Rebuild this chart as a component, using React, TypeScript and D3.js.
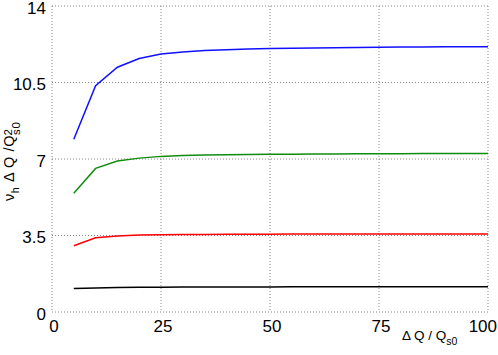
import React from 'react';
import * as d3 from 'd3';

const xs = [5, 10, 15, 20, 25, 30, 35, 40, 45, 50, 55, 60, 65, 70, 75, 80, 85, 90, 95, 100];
const blueVals = [7.9, 10.35, 11.2, 11.6, 11.8, 11.9, 11.96, 12.0, 12.03, 12.05, 12.07, 12.08, 12.09, 12.1, 12.11, 12.12, 12.12, 12.13, 12.13, 12.14];
const greenVals = [5.43, 6.57, 6.91, 7.04, 7.12, 7.16, 7.18, 7.2, 7.21, 7.22, 7.22, 7.23, 7.23, 7.24, 7.24, 7.24, 7.25, 7.25, 7.25, 7.25];
const redVals = [3.03, 3.4, 3.48, 3.52, 3.54, 3.55, 3.55, 3.56, 3.56, 3.56, 3.57, 3.57, 3.57, 3.57, 3.57, 3.57, 3.57, 3.57, 3.57, 3.57];
const blackVals = [1.07, 1.1, 1.12, 1.13, 1.13, 1.14, 1.14, 1.14, 1.14, 1.14, 1.15, 1.15, 1.15, 1.15, 1.15, 1.15, 1.15, 1.15, 1.15, 1.15];
const xTicks = [0, 25, 50, 75, 100];
const yTicks = [0, 3.5, 7, 10.5, 14];

const series = [
  { name: 'black', values: blackVals, color: '#000000' },
  { name: 'red', values: redVals, color: '#ff0000' },
  { name: 'green', values: greenVals, color: '#108c10' },
  { name: 'blue', values: blueVals, color: '#1010ff' },
];

const W = 498;
const H = 355;
const left = 52, right = 488, top = 6, bottom = 312;

const App = () => {
  const x = d3.scaleLinear().domain([0, 100]).range([left, right]);
  const y = d3.scaleLinear().domain([0, 14]).range([bottom, top]);
  const line = d3.line<number>()
    .x((_, i) => x(xs[i]))
    .y(d => y(d));

  const font = 'Liberation Sans, Arial, Helvetica, sans-serif';

  return (
    <svg width={W} height={H} style={{ position: 'absolute', left: 0, top: 0, background: '#fff' }}>
      {/* grid */}
      {xTicks.map(t => (
        <line key={'gx' + t} x1={x(t)} x2={x(t)} y1={top} y2={bottom}
          stroke="#888" strokeWidth={1} strokeDasharray="1,2" />
      ))}
      {yTicks.map(t => (
        <line key={'gy' + t} x1={left} x2={right} y1={y(t)} y2={y(t)}
          stroke="#888" strokeWidth={1} strokeDasharray="1,2" />
      ))}

      {/* curves */}
      {series.map(s => (
        <path key={s.name} d={line(s.values) || ''} fill="none" stroke={s.color} strokeWidth={1.5} />
      ))}

      {/* tick labels */}
      {yTicks.map(t => (
        <text key={'ty' + t} x={46} y={y(t) + 2} textAnchor="end" dominantBaseline="central"
          fontFamily={font} fontSize={17} fill="#000">{t}</text>
      ))}
      {xTicks.map(t => (
        <text key={'tx' + t} x={t === 100 ? 497 : x(t) + 2} y={332} textAnchor={t === 100 ? 'end' : 'middle'}
          fontFamily={font} fontSize={17} fill="#000">{t}</text>
      ))}

      {/* axis titles */}
      <text x={402} y={340} fontFamily={font} fontSize={13.5} fill="#000">
        Δ Q / Q<tspan fontSize={10.5} dy={5}>s0</tspan>
      </text>
      <text transform="translate(14,201) rotate(-90)" fontFamily={font} fontSize={14.5} fill="#000" letterSpacing={0.6}>
        ν<tspan fontSize={10.5} dy={5}>h</tspan>
        <tspan dy={-5}> Δ Q /Q</tspan>
        <tspan fontSize={11.5} dy={6}>s0</tspan>
        <tspan fontSize={11.5} dx={-14} dy={-8}>2</tspan>
      </text>
    </svg>
  );
};

export default App;
